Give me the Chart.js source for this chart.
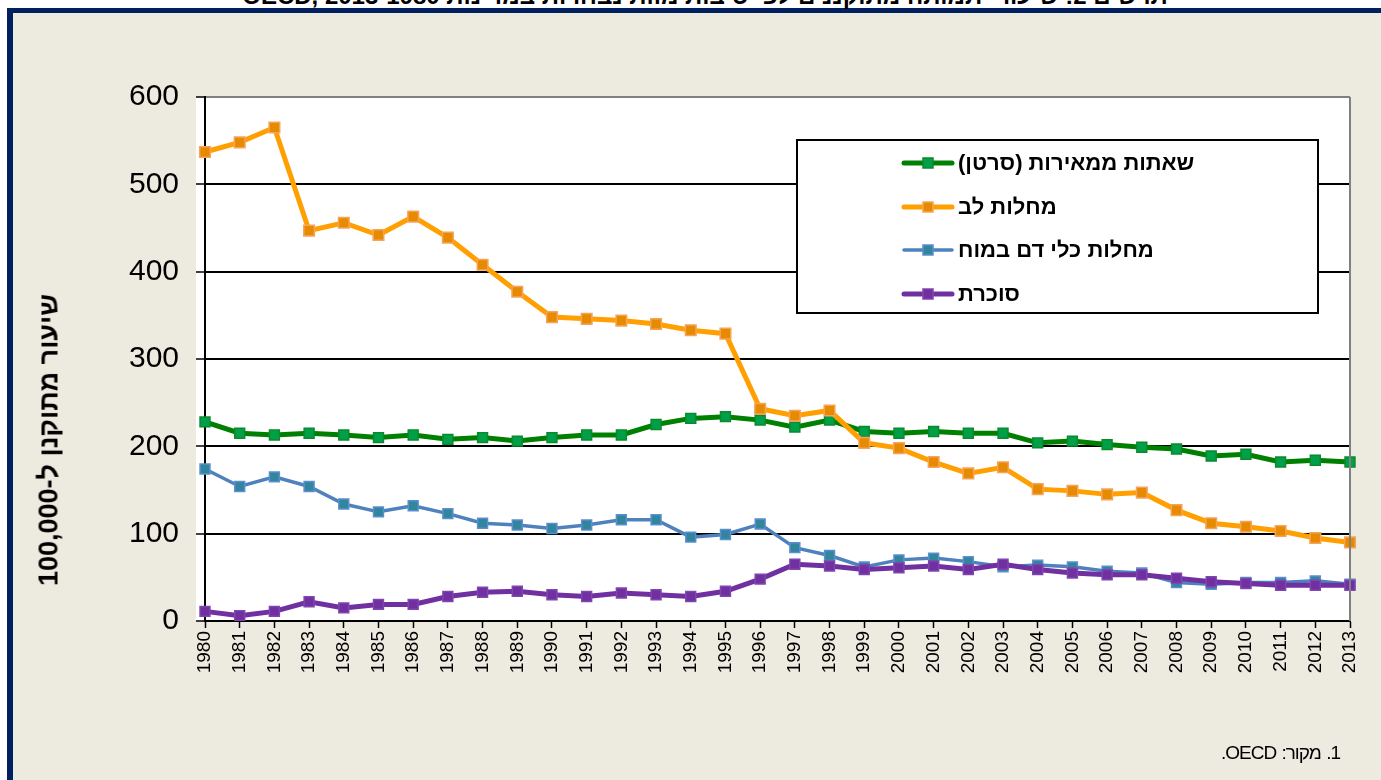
<!DOCTYPE html>
<html lang="he">
<head>
<meta charset="utf-8">
<script src="https://cdn.jsdelivr.net/npm/chart.js@4.4.1/dist/chart.umd.min.js"></script>
<style>
  html, body { margin:0; padding:0; width:1381px; height:780px; overflow:hidden; background:#ffffff; font-family:"Liberation Sans", Arial, sans-serif; }
  #frame { position:absolute; left:7px; top:8px; width:1400px; height:800px; background:#EDEAE0; border-top:5px solid #002060; border-left:6px solid #002060; }
  #title { position:absolute; left:0; top:-16px; width:1410px; text-align:center; font-weight:bold; font-size:24px; line-height:24px; color:#000; direction:rtl; white-space:nowrap; }
  #chartWrap { position:absolute; left:0; top:0; width:1381px; height:780px; }
  #ytitle { position:absolute; left:49px; top:440px; transform:translate(-50%,-50%) rotate(-90deg); font-weight:bold; font-size:27px; color:#000; white-space:nowrap; direction:rtl; }
  #note { position:absolute; right:41px; top:742px; font-size:19px; color:#000; direction:rtl; white-space:nowrap; letter-spacing:-1px; word-spacing:1px; }
</style>
</head>
<body>
<div id="frame"></div>
<div id="title">תרשים 2: שיעורי תמותה מתוקננים לפי סיבות מוות נבחרות במדינות OECD, 2013-1980</div>
<div id="chartWrap"><canvas id="c" width="1381" height="780"></canvas></div>
<div id="ytitle">שיעור מתוקנן ל-100,000</div>
<div id="note">1. מקור: OECD.</div>
<script>
const years = ['1980','1981','1982','1983','1984','1985','1986','1987','1988','1989','1990','1991','1992','1993','1994','1995','1996','1997','1998','1999','2000','2001','2002','2003','2004','2005','2006','2007','2008','2009','2010','2011','2012','2013'];
const seriesNames = ['שאתות ממאירות (סרטן)', 'מחלות לב', 'מחלות כלי דם במוח', 'סוכרת'];
const cancer   = [228,215,213,215,213,210,213,208,210,206,210,213,213,225,232,234,230,222,230,217,215,217,215,215,204,206,202,199,197,189,191,182,184,182];
const heart    = [537,548,565,447,456,442,463,439,408,377,348,346,344,340,333,329,243,235,241,204,198,182,169,176,151,149,145,147,127,112,108,103,95,90];
const stroke   = [174,154,165,154,134,125,132,123,112,110,106,110,116,116,96,99,111,84,75,62,70,72,68,62,64,62,57,55,44,42,44,44,46,42];
const diabetes = [11,6,11,22,15,19,19,28,33,34,30,28,32,30,28,34,48,65,63,59,61,63,59,65,59,55,53,53,49,45,43,41,41,41];
const yTicks = [0,100,200,300,400,500,600];

const FONT = '"Liberation Sans", Arial, sans-serif';

const bgPlugin = {
  id: 'bg',
  beforeDraw(chart) {
    const {ctx, chartArea:a} = chart;
    ctx.save();
    ctx.fillStyle = '#ffffff';
    ctx.fillRect(a.left - 9, a.top, a.right - a.left + 9, a.bottom - a.top);
    ctx.restore();
  },
  afterDraw(chart) {
    const {ctx, chartArea:a} = chart;
    ctx.save();
    ctx.strokeStyle = '#808080';
    ctx.lineWidth = 2;
    ctx.beginPath();
    ctx.moveTo(a.right, a.top);
    ctx.lineTo(a.right, a.bottom);
    ctx.stroke();
    ctx.restore();
  }
};

const legendPlugin = {
  id: 'boxLegend',
  afterDraw(chart) {
    const ctx = chart.ctx;
    const box = {x: 797, y: 140, w: 521, h: 173};
    ctx.save();
    ctx.fillStyle = '#ffffff';
    ctx.fillRect(box.x, box.y, box.w, box.h);
    ctx.strokeStyle = '#000';
    ctx.lineWidth = 2;
    ctx.strokeRect(box.x, box.y, box.w, box.h);
    const rows = [163, 207, 250, 294];
    chart.data.datasets.forEach((ds, i) => {
      const y = rows[i];
      ctx.strokeStyle = ds.borderColor;
      ctx.lineWidth = ds.borderWidth;
      ctx.lineCap = 'round';
      ctx.beginPath();
      ctx.moveTo(904, y);
      ctx.lineTo(952, y);
      ctx.stroke();
      const s = 10;
      ctx.fillStyle = ds.pointBackgroundColor;
      ctx.fillRect(928 - s/2, y - s/2, s, s);
      ctx.strokeStyle = ds.pointBorderColor;
      ctx.lineWidth = 1.5;
      ctx.strokeRect(928 - s/2, y - s/2, s, s);
      ctx.fillStyle = '#000';
      ctx.font = 'bold 22px ' + FONT;
      ctx.direction = 'rtl';
      ctx.textAlign = 'left';
      ctx.textBaseline = 'middle';
      ctx.fillText(ds.label, 958, y + 1);
    });
    ctx.restore();
  }
};

new Chart(document.getElementById('c'), {
  type: 'line',
  data: {
    labels: years,
    datasets: [
      { label: seriesNames[0], data: cancer, borderColor: '#008000', borderWidth: 5, pointBackgroundColor: '#00A04A', pointBorderColor: '#0A8A2A', pointBorderWidth: 1.5, pointStyle: 'rect', pointRadius: 7, order: 3 },
      { label: seriesNames[1], data: heart, borderColor: '#FF9F00', borderWidth: 5, pointBackgroundColor: '#E68A00', pointBorderColor: '#F7A35C', pointBorderWidth: 1.5, pointStyle: 'rect', pointRadius: 7.5, order: 1 },
      { label: seriesNames[2], data: stroke, borderColor: '#4F81BD', borderWidth: 3.5, pointBackgroundColor: '#31859C', pointBorderColor: '#5B8FD0', pointBorderWidth: 1.5, pointStyle: 'rect', pointRadius: 7, order: 2 },
      { label: seriesNames[3], data: diabetes, borderColor: '#7030A0', borderWidth: 5, pointBackgroundColor: '#7030A0', pointBorderColor: '#7F45B0', pointBorderWidth: 1.5, pointStyle: 'rect', pointRadius: 7, order: 0 }
    ]
  },
  options: {
    responsive: false,
    animation: false,
    devicePixelRatio: 1,
    layout: { padding: { left: 125, top: 97, right: 31, bottom: 99 } },
    plugins: { legend: { display: false }, tooltip: { enabled: false }, title: { display: false } },
    elements: { line: { tension: 0 } },
    scales: {
      x: {
        type: 'category',
        offset: false,
        grid: { drawOnChartArea: false, drawTicks: true, tickLength: 7, tickColor: '#000', tickWidth: 1.5 },
        border: { color: '#000', width: 2 },
        ticks: { autoSkip: false, minRotation: 90, maxRotation: 90, padding: 3, color: '#000', font: { size: 19, family: FONT } },
        afterFit(s) { s.height = 60; }
      },
      y: {
        min: 0, max: 600,
        afterBuildTicks(s) { s.ticks = yTicks.map(v => ({ value: v })); },
        grid: { color: c => (c.tick && c.tick.value === 600) ? '#808080' : '#000', lineWidth: 2, tickLength: 9, tickColor: '#000', tickWidth: 1.5 },
        border: { color: '#000', width: 2 },
        ticks: { padding: 17, color: '#000', font: { size: 30, family: FONT } },
        afterFit(s) { s.width = 80; }
      }
    }
  },
  plugins: [bgPlugin, legendPlugin]
});
</script>
</body>
</html>
